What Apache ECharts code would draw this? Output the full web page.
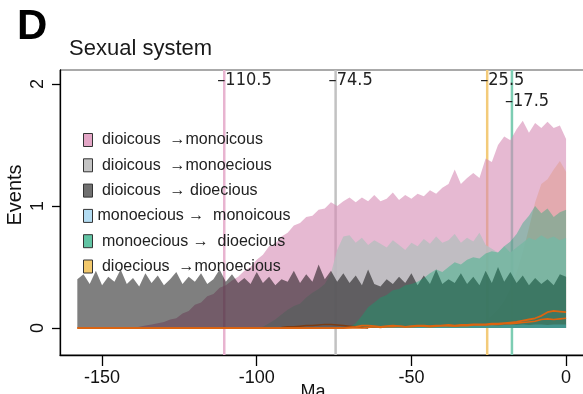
<!DOCTYPE html>
<html><head><meta charset="utf-8">
<script src="https://cdn.jsdelivr.net/npm/echarts@6/dist/echarts.min.js"></script>
<style>html,body{margin:0;padding:0;background:#fff}#c{width:583px;height:394px}</style>
</head><body><div id="c"></div>
<script>
// ---- data ----
const years = [-158,-156,-154,-152,-150,-148,-146,-144,-142,-140,-138,-136,-134,-132,-130,-128,-126,-124,-122,-120,-118,-116,-114,-112,-110,-108,-106,-104,-102,-100,-98,-96,-94,-92,-90,-88,-86,-84,-82,-80,-78,-76,-74,-72,-70,-68,-66,-64,-62,-60,-58,-56,-54,-52,-50,-48,-46,-44,-42,-40,-38,-36,-34,-32,-30,-28,-26,-24,-22,-20,-18,-16,-14,-12,-10,-8,-6,-4,-2,0];
// dioicous -> monoicous
const dioicousToMonoicous = [0,0,0,0,0,0,0,0,0,0,0.01,0.02,0.03,0.04,0.05,0.07,0.08,0.12,0.14,0.19,0.21,0.26,0.28,0.33,0.35,0.39,0.42,0.47,0.50,0.56,0.60,0.67,0.69,0.75,0.78,0.84,0.86,0.91,0.92,0.97,0.98,1.03,1.00,1.04,1.07,1.03,1.07,1.04,1.09,1.04,1.06,1.11,1.05,1.09,1.06,1.10,1.08,1.13,1.10,1.15,1.18,1.30,1.18,1.23,1.27,1.23,1.39,1.36,1.50,1.57,1.54,1.63,1.70,1.60,1.68,1.64,1.69,1.64,1.66,1.55];
// dioicous -> monoecious
const dioicousToMonoecious = [0,0,0,0,0,0,0,0,0,0,0,0,0,0,0,0,0,0,0,0,0,0,0,0,0,0,0,0,0,0,0.01,0.04,0.07,0.11,0.15,0.18,0.20,0.25,0.29,0.32,0.36,0.45,0.64,0.75,0.76,0.70,0.74,0.68,0.72,0.69,0.66,0.72,0.68,0.64,0.70,0.67,0.73,0.69,0.75,0.70,0.72,0.77,0.70,0.74,0.71,0.78,0.68,0.65,0.62,0.67,0.62,0.66,0.70,0.74,0.72,0.76,0.73,0.75,0.72,0.74];
// dioicous -> dioecious
const dioicousToDioecious = [0.40,0.44,0.36,0.47,0.35,0.42,0.38,0.48,0.36,0.41,0.34,0.45,0.37,0.43,0.35,0.40,0.46,0.36,0.42,0.38,0.45,0.36,0.40,0.48,0.38,0.44,0.37,0.41,0.36,0.46,0.37,0.42,0.35,0.40,0.38,0.47,0.37,0.44,0.38,0.52,0.40,0.47,0.38,0.45,0.37,0.43,0.35,0.48,0.36,0.34,0.40,0.36,0.42,0.37,0.45,0.35,0.43,0.36,0.48,0.36,0.40,0.37,0.45,0.36,0.42,0.35,0.47,0.37,0.50,0.38,0.46,0.37,0.43,0.35,0.41,0.36,0.40,0.35,0.44,0.42];
// monoecious -> monoicous
const monoeciousToMonoicous = [0,0,0,0,0,0,0,0,0,0,0,0,0,0,0,0,0,0,0,0,0,0,0,0,0,0,0,0,0,0,0,0,0,0,0,0,0,0,0,0,0,0,0,0,0,0,0,0,0,0.01,0.01,0.015,0.01,0.015,0.02,0.015,0.02,0.015,0.02,0.02,0.015,0.02,0.025,0.02,0.02,0.025,0.02,0.025,0.02,0.025,0.03,0.025,0.03,0.025,0.03,0.03,0.025,0.03,0.03,0.03];
// monoecious -> dioecious
const monoeciousToDioecious = [0,0,0,0,0,0,0,0,0,0,0,0,0,0,0,0,0,0,0,0,0,0,0,0,0,0,0,0,0,0,0,0,0,0,0,0,0,0,0,0,0,0,0,0,0.01,0.04,0.10,0.17,0.21,0.25,0.27,0.31,0.32,0.35,0.36,0.38,0.41,0.45,0.48,0.46,0.50,0.54,0.52,0.56,0.58,0.57,0.61,0.63,0.62,0.67,0.71,0.77,0.86,0.92,1.00,0.94,0.98,0.91,0.95,0.97];
// dioecious -> monoecious
const dioeciousToMonoecious = [0,0,0,0,0,0,0,0,0,0,0,0,0,0,0,0,0,0,0,0,0,0,0,0,0,0,0,0,0,0,0,0,0,0,0,0,0,0,0,0,0,0,0,0,0,0,0,0,0,0,0,0,0,0,0,0,0,0,0,0,0,0,0,0,0.01,0.03,0.06,0.10,0.15,0.22,0.32,0.45,0.62,0.82,1.03,1.18,1.22,1.30,1.37,1.28];
// thin orange lines near zero
const orangeLineA = [0,0,0,0,0,0,0,0,0,0,0,0,0,0,0,0,0,0,0,0,0,0,0,0,0,0,0,0,0,0,0,0,0,0,0,0,0,0,0,0,0,0,0,0,0.005,0.01,0.02,0.02,0.015,0.01,0.015,0.02,0.015,0.01,0.015,0.02,0.02,0.015,0.02,0.02,0.025,0.02,0.025,0.025,0.03,0.03,0.03,0.035,0.035,0.04,0.045,0.05,0.06,0.07,0.08,0.10,0.13,0.14,0.135,0.13];
const orangeLineB = [0,0,0,0,0,0,0,0,0,0,0,0,0,0,0,0,0,0,0,0,0,0,0,0,0,0,0,0,0,0,0,0,0,0,0,0,0,0,0,0,0,0,0,0,0,0,0,0.005,0.01,0.005,0.01,0.01,0.015,0.01,0.01,0.015,0.015,0.01,0.015,0.02,0.02,0.015,0.02,0.02,0.025,0.025,0.025,0.03,0.03,0.035,0.035,0.04,0.045,0.05,0.055,0.07,0.075,0.07,0.075,0.08];
const brownLine = [null,null,null,null,null,null,null,null,null,null,null,null,null,null,null,null,null,null,null,null,null,null,null,null,null,null,null,null,null,null,null,null,null,0.005,0.01,0.01,0.015,0.02,0.02,0.025,0.03,0.028,0.025,0.02,0.015,0.01,0.005,0,null,null,null,null,null,null,null,null,null,null,null,null,null,null,null,null,null,null,null,null,null,null,null,null,null,null,null,null,null,null,null,null];
// vertical markers
const markerAges = [-110.5, -74.5, -25.5, -17.5];
const markerLabels = ['–110.5', '–74.5', '–25.5', '–17.5'];
const markerLabelY = [2.03, 2.03, 2.03, 1.86];
const markerSpan = [2.115, -0.221];
const xTicks = [-150, -100, -50, 0];
const yTicks = [0, 1, 2];
const legendNames = ['dioicous →monoicous','dioicous →monoecious','dioicous → dioecious','monoecious → monoicous','monoecious → dioecious','dioecious →monoecious'];
const legendText = [' dioicous  →monoicous',' dioicous  →monoecious',' dioicous  → dioecious','monoecious →  monoicous',' monoecious →  dioecious',' dioecious  →monoecious'];

// ---- styles ----
const FONT = "'Liberation Sans', Arial, sans-serif";
const NARROW = "'Liberation Sans Narrow', 'Arial Narrow', 'DejaVu Sans Condensed', sans-serif";
const legendColors = ['#e3a6c6','#c4c4c4','#707070','#b3dcf2','#62c4a4','#f3c96c'];
const markerColors = ['#e8b4d0','#c2c2c2','#f3cb7a','#7dcdb3'];

function pairs(vals){ return years.map((x,i)=> vals[i]==null ? null : [x, vals[i]]).filter(p=>p); }
function area(name, vals, legendColor, fill, op){
  return { name, type:'line', z:2, data: pairs(vals), symbol:'none', showSymbol:false, silent:true,
    itemStyle:{color:legendColor}, lineStyle:{width:0, opacity:0},
    areaStyle:{color:fill, opacity:op} };
}
function thinLine(vals, color, w){
  return { type:'line', data: pairs(vals), symbol:'none', showSymbol:false, silent:true,
    lineStyle:{color, width:w}, itemStyle:{color}, z:3 };
}
const vlines = markerAges.map((a,i)=>({ type:'line', z:1, silent:true, symbol:'none', showSymbol:false, clip:false,
  data: markerSpan.map(v=>[a, v]), lineStyle:{color:markerColors[i], width:2.5}, itemStyle:{color:markerColors[i]} }));

const chart = echarts.init(document.getElementById('c'), null, {renderer:'canvas'});
const labelMap = {}; legendNames.forEach((n,i)=>labelMap[n]=legendText[i]);

chart.setOption({
  animation:false,
  backgroundColor:'#ffffff',
  graphic:[
    {type:'text', x:17, y:6, style:{text:'D', font:"bold 42px "+FONT, fill:'#000', verticalAlign:'top'}},
    {type:'text', x:69, y:38, style:{text:'Sexual system', font:"22px "+FONT, fill:'#1a1a1a', verticalAlign:'top'}},
    {type:'text', x:15, y:195, rotation:Math.PI/2, style:{text:'Events', font:"20px "+FONT, fill:'#111', align:'center', verticalAlign:'middle'}},
    {type:'text', x:313, y:392, style:{text:'Ma', font:"18px "+FONT, fill:'#111', align:'center', verticalAlign:'middle'}}
  ],
  legend:{
    orient:'vertical', left:83, top:132, padding:0, itemWidth:9, itemHeight:13, itemGap:9.3,
    icon:'rect', selectedMode:false, data:legendNames, z:20,
    itemStyle:{borderColor:'#333', borderWidth:1},
    formatter:n=>labelMap[n],
    textStyle:{fontSize:16, color:'#222', fontFamily:FONT, lineHeight:16}
  },
  grid:{left:60, top:70, width:525, height:285, show:true, borderColor:'#555', borderWidth:1, outerBoundsMode:'none', containLabel:false},
  xAxis:{type:'value', min:-163.6, max:6.12,
    axisLine:{show:true, onZero:false, lineStyle:{color:'#000', width:1.3}},
    axisTick:{show:true, customValues:xTicks, length:11, lineStyle:{color:'#000', width:1.3}},
    axisLabel:{customValues:xTicks, fontSize:18, color:'#111', margin:14, fontFamily:FONT},
    splitLine:{show:false}},
  yAxis:{type:'value', min:-0.221, max:2.115,
    axisLine:{show:true, onZero:false, lineStyle:{color:'#000', width:1.3}},
    axisTick:{show:true, customValues:yTicks, length:8, lineStyle:{color:'#000', width:1.3}},
    axisLabel:{customValues:yTicks, rotate:90, fontSize:18, color:'#111', margin:13, fontFamily:FONT},
    splitLine:{show:false}},
  series: vlines.concat([
    area(legendNames[5], dioeciousToMonoecious, legendColors[5], '#f2c070', 0.6),
    area(legendNames[0], dioicousToMonoicous, legendColors[0], '#d58ab4', 0.6),
    area(legendNames[1], dioicousToMonoecious, legendColors[1], '#b8bdbf', 0.85),
    area(legendNames[2], dioicousToDioecious, legendColors[2], '#000000', 0.5),
    area(legendNames[3], monoeciousToMonoicous, legendColors[3], '#6fb5de', 0.5),
    area(legendNames[4], monoeciousToDioecious, legendColors[4], '#00ab6f', 0.35),
    thinLine(brownLine, '#7a3c14', 1.5),
    thinLine(orangeLineB, '#dc6410', 1.6),
    thinLine(orangeLineA, '#dc6410', 1.8),
    { type:'line', z:5, data:[], silent:true, symbol:'none',
      markPoint:{ silent:true, symbol:'rect', symbolSize:0,
        data: markerAges.map((a,i)=>({coord:[a, markerLabelY[i]], name:markerLabels[i]})),
        label:{show:true, position:'right', distance:0, offset:[-7,0], formatter:'{b}', fontSize:18, color:'#222', fontFamily:NARROW} } }
  ])
});
</script></body></html>
